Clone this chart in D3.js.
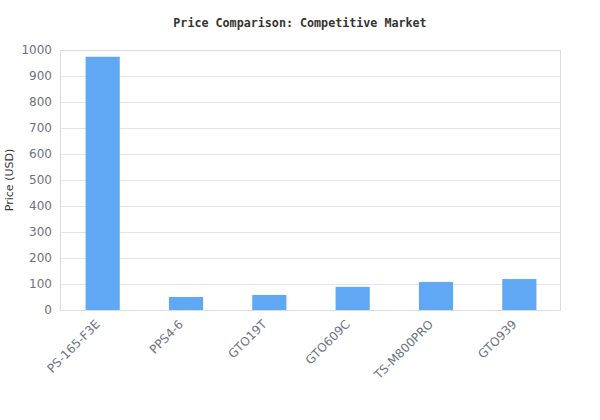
<!DOCTYPE html>
<html>
<head>
<meta charset="utf-8">
<script src="https://cdn.jsdelivr.net/npm/d3@7"></script>
<style>
	body { margin: 0; background: #fff; }
	svg { display: block; }
</style>
</head>
<body>
<div class="svg-container"></div>
<script>
(function () {

	"use strict";

	// data
	var products 	= [ "PS-165-F3E", "PPS4-6", "GTO19T", "GTO609C", "TS-M800PRO", "GTO939" ];
	var prices 		= [ 974, 50, 58, 89, 108, 119 ];
	var y_ticks 	= [ 0, 100, 200, 300, 400, 500, 600, 700, 800, 900, 1000 ];

	var bar_color 	= "#60a8f4";
	var grid_color 	= "#e6e6e6";
	var tick_color 	= "#6b7280";

	var container 	= d3.select(".svg-container"),
		margin 		= { "top": 50, "right": 40, "bottom": 110, "left": 60 },
		full_width 	= 600,
		full_height = 420;

	var width = full_width - margin.left - margin.right,
		height = full_height - margin.top - margin.bottom;

	var root = container.append("svg")
		.attr("width", full_width)
		.attr("height", full_height);

	root.append("text")
		.attr("x", full_width / 2)
		.attr("y", 27)
		.attr("text-anchor", "middle")
		.attr("font-family", "'DejaVu Sans Mono', monospace")
		.attr("font-weight", "bold")
		.attr("font-size", 11.7)
		.attr("fill", "#333")
		.text("Price Comparison: Competitive Market");

	var svg = root.append("g")
		.attr("transform", "translate(" + margin.left + "," + margin.top + ")");

	var x = d3.scaleBand()
		.domain(products)
		.range([ 1, width + 1 ])
		.paddingInner(0.59)
		.paddingOuter(0.295);

	var y = d3.scaleLinear()
		.domain([ 0, 1000 ])
		.range([ height, 0 ]);

	// grid
	svg.selectAll(".grid")
		.data(y_ticks)
		.enter()
		.append("line")
		.attr("class", "grid")
		.attr("x1", 0)
		.attr("x2", width)
		.attr("y1", function (d) { return Math.round(y(d)) + 0.5; })
		.attr("y2", function (d) { return Math.round(y(d)) + 0.5; })
		.attr("stroke", grid_color);

	// frame
	svg.append("rect")
		.attr("x", 0.5)
		.attr("y", 0.5)
		.attr("width", width)
		.attr("height", height)
		.attr("fill", "none")
		.attr("stroke", "#dcdcdc");

	svg.selectAll(".bar")
		.data(prices)
		.enter()
		.append("rect")
		.attr("class", "bar")
		.attr("x", function (d, i) { return x(products[i]); })
		.attr("y", function (d) { return y(d); })
		.attr("width", x.bandwidth())
		.attr("height", function (d) { return height - y(d); })
		.attr("fill", bar_color);

	// axes
	var y_axis = svg.append("g")
		.call(d3.axisLeft(y).tickValues(y_ticks).tickFormat(d3.format("d")).tickSize(0).tickPadding(8));

	var x_axis = svg.append("g")
		.attr("transform", "translate(0," + height + ")")
		.call(d3.axisBottom(x).tickSize(0).tickPadding(0));

	[ y_axis, x_axis ].forEach(function (a) {
		a.select(".domain").remove();
		a.selectAll("text")
			.attr("font-family", "'DejaVu Sans', sans-serif")
			.attr("font-size", 12)
			.attr("fill", tick_color);
	});

	x_axis.selectAll("text")
		.attr("text-anchor", "end")
		.attr("dy", null)
		.attr("y", 0)
		.attr("transform", "translate(-2,15) rotate(-45)");

	root.append("text")
		.attr("transform", "translate(13," + (margin.top + height / 2) + ") rotate(-90)")
		.attr("text-anchor", "middle")
		.attr("font-family", "'DejaVu Sans', sans-serif")
		.attr("font-size", 11)
		.attr("fill", "#333")
		.text("Price (USD)");

})();
</script>
</body>
</html>
